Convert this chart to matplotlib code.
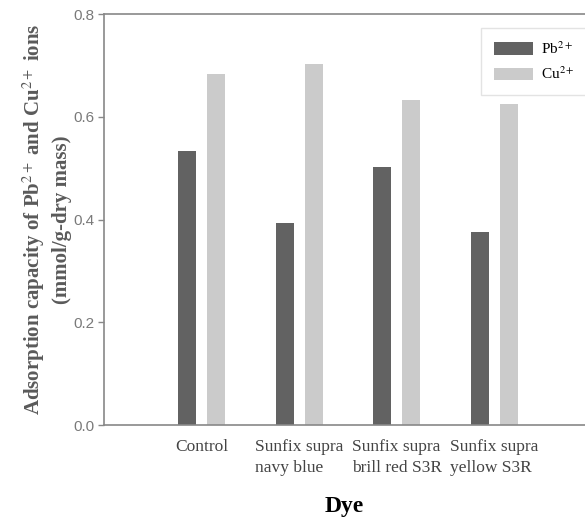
import matplotlib.pyplot as plt
import numpy as np

# Data
dyes = ['Control', 'Sunfix supra\nnavy blue', 'Sunfix supra\nbrill red S3R', 'Sunfix supra\nyellow S3R']
pb_values = [0.533, 0.393, 0.502, 0.375]
cu_values = [0.683, 0.702, 0.632, 0.624]

plt.rcParams['mathtext.fontset'] = 'stix'

fig = plt.figure(figsize=(5.85, 5.19), dpi=100)
ax = fig.add_axes([0.178, 0.181, 0.822, 0.792])

x = np.arange(len(dyes))
width = 0.184
offset = 0.15
ax.bar(x - offset, pb_values, width, color='#626262', label='Pb$^{2+}$')
ax.bar(x + offset, cu_values, width, color='#cbcbcb', label='Cu$^{2+}$')

ax.set_xlim(-1.0, 3.93)
ax.set_ylim(0, 0.8)
ax.set_yticks([0.0, 0.2, 0.4, 0.6, 0.8])
ax.set_yticklabels(['0.0', '0.2', '0.4', '0.6', '0.8'], family='Liberation Sans', fontsize=11, color='#7a7a7a')
ax.tick_params(axis='y', length=4, color='#888888', width=1, pad=3)

ax.set_xticks(x)
ax.set_xticklabels(dyes, family='Liberation Serif', fontsize=12.5, color='#444444',
                   multialignment='left', linespacing=1.45)
ax.tick_params(axis='x', length=0, pad=10)

for side in ['left', 'top', 'bottom']:
    ax.spines[side].set_color('#888888')
    ax.spines[side].set_linewidth(1.2)
ax.spines['right'].set_visible(False)

ax.set_ylabel('Adsorption capacity of Pb$^{2+}$ and Cu$^{2+}$ ions\n(mmol/g-dry mass)',
              family='Liberation Serif', fontsize=15, fontweight='bold', color='#5a5a5a',
              labelpad=1, linespacing=1.3)
ax.set_xlabel('Dye', family='Liberation Serif', fontsize=17, fontweight='bold', labelpad=14)

leg = ax.legend(loc='upper right', bbox_to_anchor=(1.02, 0.985), prop={'family': 'Liberation Serif', 'size': 11},
                frameon=True, fancybox=False, handlelength=2.6, handleheight=0.9, borderpad=0.8,
                labelspacing=0.6, handletextpad=0.5)
leg.get_frame().set_edgecolor('#dddddd')
leg.get_frame().set_linewidth(1)

fig.savefig('out.png', dpi=100)
